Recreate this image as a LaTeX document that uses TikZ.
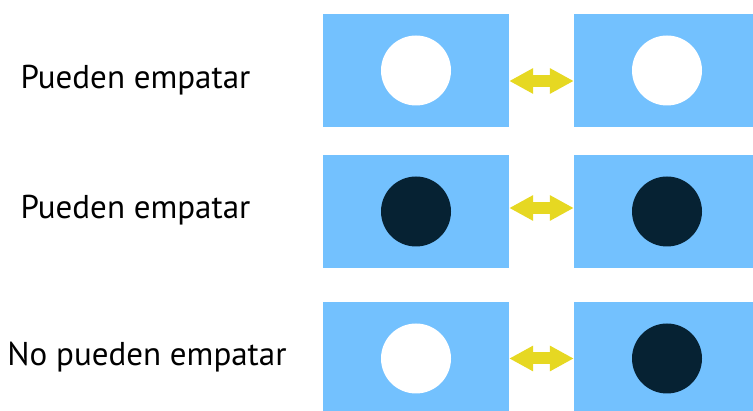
\documentclass[tikz,border=0pt]{standalone}
\usepackage{fontspec}
\setmainfont{PT Sans}
\usepackage{xcolor}
\usetikzlibrary{arrows.meta,positioning}

\definecolor{cardblue}{HTML}{73C1FE}
\definecolor{stonedark}{HTML}{062233}
\definecolor{linkyellow}{HTML}{E6D822}

\tikzset{
  card/.style={rectangle, fill=cardblue, minimum width=186pt, minimum height=113pt, inner sep=0pt},
  light/.style={circle, fill=white, minimum size=70pt, inner sep=0pt},
  dark/.style={circle, fill=stonedark, minimum size=70pt, inner sep=0pt},
  tag/.style={anchor=base, font=\fontsize{33}{38}\selectfont, inner sep=0pt},
  link/.style={draw=linkyellow, line width=12pt,
    {Triangle[length=24pt,width=24pt,fill=linkyellow]}-{Triangle[length=24pt,width=24pt,fill=linkyellow]}}
}

\begin{document}
\begin{tikzpicture}[x=1pt,y=1pt]
\useasboundingbox (0,0) rectangle (753,411);

% Row 1: white against white
\node[card] (l1) at (416,340.5) {};
\node[card] (r1) at (667,340.5) {};
\node[light] (l1s) at (l1.center) {};
\node[light] (r1s) at (r1.center) {};
\node[tag] (t1) at (135.5,322) {Pueden empatar};

% Row 2: dark against dark
\node[card] (l2) at (416,199.5) {};
\node[card] (r2) at (667,199.5) {};
\node[dark] (l2s) at (l2.center) {};
\node[dark] (r2s) at (r2.center) {};
\node[tag] (t2) at (135.5,192) {Pueden empatar};

% Row 3: white against dark
\node[card] (l3) at (416,52.5) {};
\node[card] (r3) at (667,52.5) {};
\node[light] (l3s) at (l3.center) {};
\node[dark] (r3s) at (r3.center) {};
\node[tag] (t3) at (147,45) {No pueden empatar};

% Links between the cards
\draw[link] ([yshift=-10.5pt]l1.east) -- ([yshift=-10.5pt]r1.west);
\draw[link] ([yshift=3.5pt]l2.east) -- ([yshift=3.5pt]r2.west);
\draw[link] (l3.east) -- (r3.west);

\end{tikzpicture}
\end{document}
